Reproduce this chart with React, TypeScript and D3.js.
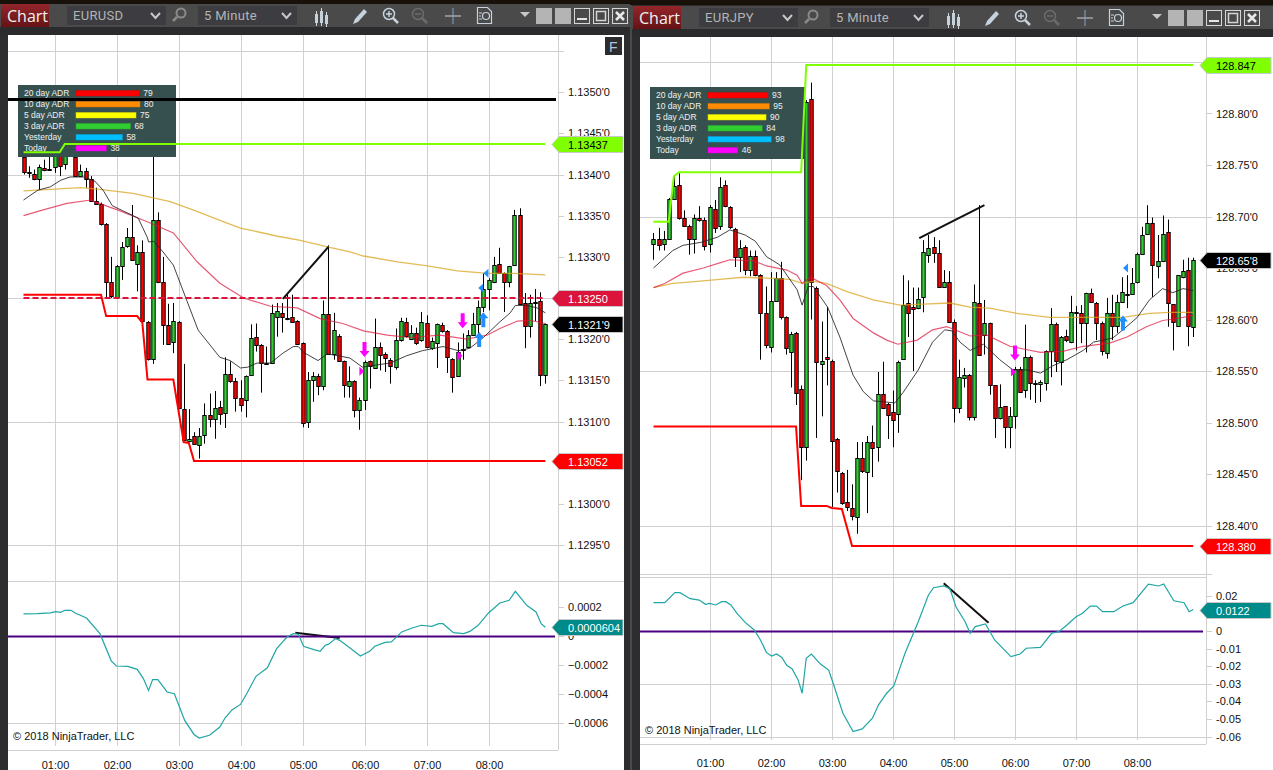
import React, { useEffect, useRef } from 'react';
import * as d3 from 'd3';

// bars are [open, high, low, close], one every 5 minutes
const eurusdBars = [
  [1.13421,1.13430,1.13400,1.13403],[1.13403,1.13410,1.13396,1.13402],[1.13401,1.13406,1.13393,1.13394],[1.13394,1.13412,1.13381,1.13409],
  [1.13408,1.13418,1.13404,1.13406],[1.13407,1.13426,1.13405,1.13406],[1.13409,1.13438,1.13402,1.13426],[1.13426,1.13432,1.13398,1.13410],
  [1.13413,1.13442,1.13406,1.13436],[1.13436,1.13442,1.13422,1.13425],[1.13421,1.13430,1.13397,1.13398],[1.13398,1.13412,1.13397,1.13404],
  [1.13404,1.13408,1.13384,1.13394],[1.13394,1.13398,1.13367,1.13368],[1.13368,1.13384,1.13363,1.13364],[1.13364,1.13366,1.13338,1.13340],
  [1.13340,1.13341,1.13250,1.13270],[1.13270,1.13300,1.13250,1.13253],[1.13251,1.13290,1.13250,1.13289],[1.13289,1.13318,1.13272,1.13312],
  [1.13313,1.13335,1.13311,1.13324],[1.13324,1.13363,1.13295,1.13296],[1.13291,1.13314,1.13258,1.13306],[1.13306,1.13320,1.13221,1.13222],
  [1.13221,1.13222,1.13174,1.13176],[1.13176,1.13424,1.13170,1.13345],[1.13345,1.13354,1.13268,1.13269],[1.13269,1.13300,1.13193,1.13217],
  [1.13217,1.13243,1.13193,1.13194],[1.13196,1.13244,1.13183,1.13222],[1.13221,1.13222,1.13116,1.13117],[1.13115,1.13170,1.13077,1.13078],
  [1.13076,1.13115,1.13075,1.13079],[1.13082,1.13087,1.13072,1.13073],[1.13071,1.13092,1.13055,1.13082],[1.13084,1.13122,1.13073,1.13108],
  [1.13108,1.13134,1.13093,1.13103],[1.13103,1.13137,1.13079,1.13116],[1.13118,1.13125,1.13096,1.13109],[1.13110,1.13178,1.13092,1.13158],
  [1.13158,1.13173,1.13147,1.13149],[1.13149,1.13153,1.13112,1.13129],[1.13129,1.13150,1.13112,1.13120],[1.13126,1.13156,1.13105,1.13155],
  [1.13157,1.13218,1.13156,1.13202],[1.13203,1.13219,1.13185,1.13193],[1.13193,1.13194,1.13135,1.13171],[1.13171,1.13191,1.13169,1.13170],
  [1.13171,1.13242,1.13170,1.13232],[1.13227,1.13244,1.13203,1.13234],[1.13232,1.13244,1.13208,1.13227],[1.13226,1.13254,1.13223,1.13224],
  [1.13227,1.13254,1.13220,1.13221],[1.13222,1.13223,1.13193,1.13194],[1.13195,1.13196,1.13093,1.13098],[1.13100,1.13160,1.13092,1.13150],
  [1.13150,1.13160,1.13124,1.13155],[1.13155,1.13158,1.13132,1.13143],[1.13143,1.13247,1.13138,1.13230],[1.13230,1.13314,1.13181,1.13182],
  [1.13182,1.13232,1.13175,1.13211],[1.13204,1.13206,1.13173,1.13174],[1.13173,1.13174,1.13129,1.13144],[1.13143,1.13167,1.13129,1.13149],
  [1.13149,1.13150,1.13105,1.13114],[1.13114,1.13129,1.13090,1.13126],[1.13126,1.13174,1.13114,1.13172],[1.13173,1.13174,1.13140,1.13167],
  [1.13165,1.13225,1.13164,1.13190],[1.13190,1.13196,1.13162,1.13181],[1.13182,1.13184,1.13160,1.13177],[1.13175,1.13177,1.13146,1.13167],
  [1.13166,1.13213,1.13163,1.13199],[1.13199,1.13226,1.13197,1.13222],[1.13221,1.13226,1.13202,1.13204],[1.13200,1.13217,1.13199,1.13207],
  [1.13207,1.13214,1.13193,1.13195],[1.13199,1.13233,1.13197,1.13221],[1.13220,1.13229,1.13189,1.13191],[1.13189,1.13202,1.13187,1.13198],
  [1.13195,1.13219,1.13165,1.13218],[1.13217,1.13220,1.13208,1.13210],[1.13210,1.13211,1.13159,1.13178],[1.13176,1.13177,1.13135,1.13154],
  [1.13155,1.13196,1.13154,1.13184],[1.13188,1.13207,1.13175,1.13187],[1.13190,1.13211,1.13189,1.13205],[1.13205,1.13232,1.13204,1.13219],
  [1.13219,1.13247,1.13199,1.13239],[1.13239,1.13280,1.13233,1.13261],[1.13261,1.13274,1.13235,1.13272],[1.13269,1.13300,1.13268,1.13290],
  [1.13291,1.13311,1.13279,1.13280],[1.13280,1.13281,1.13233,1.13269],[1.13269,1.13289,1.13263,1.13289],[1.13290,1.13357,1.13289,1.13351],
  [1.13351,1.13359,1.13242,1.13243],[1.13244,1.13256,1.13189,1.13216],[1.13216,1.13254,1.13202,1.13244],[1.13245,1.13261,1.13222,1.13244],
  [1.13246,1.13257,1.13143,1.13156],[1.13157,1.13219,1.13146,1.13219],
];

const eurjpyBars = [
  [128.673,128.684,128.658,128.678],[128.678,128.689,128.667,128.672],[128.673,128.686,128.667,128.678],[128.678,128.718,128.678,128.717],
  [128.717,128.740,128.716,128.730],[128.731,128.742,128.697,128.699],[128.699,128.706,128.690,128.691],[128.691,128.692,128.663,128.678],
  [128.678,128.702,128.664,128.699],[128.699,128.710,128.695,128.697],[128.697,128.699,128.667,128.671],[128.673,128.711,128.665,128.709],
  [128.707,128.716,128.684,128.689],[128.691,128.738,128.687,128.729],[128.731,128.735,128.709,128.710],[128.709,128.710,128.688,128.690],
  [128.688,128.689,128.651,128.661],[128.661,128.677,128.646,128.669],[128.670,128.672,128.643,128.648],[128.648,128.667,128.642,128.662],
  [128.662,128.667,128.642,128.643],[128.643,128.644,128.561,128.606],[128.606,128.632,128.572,128.575],[128.573,128.646,128.568,128.618],
  [128.618,128.646,128.617,128.640],[128.640,128.656,128.600,128.602],[128.602,128.603,128.566,128.572],[128.568,128.588,128.534,128.586],
  [128.587,128.588,128.517,128.529],[128.533,128.536,128.444,128.476],[128.476,128.813,128.463,128.811],[128.814,128.830,128.600,128.636],
  [128.631,128.632,128.485,128.559],[128.557,128.598,128.506,128.560],[128.564,128.612,128.536,128.562],[128.560,128.561,128.418,128.482],
  [128.484,128.485,128.432,128.453],[128.451,128.452,128.420,128.422],[128.423,128.454,128.414,128.418],[128.417,128.440,128.405,128.409],
  [128.408,128.481,128.392,128.466],[128.466,128.481,128.451,128.453],[128.452,128.487,128.412,128.481],[128.481,128.497,128.447,128.475],
  [128.476,128.549,128.462,128.528],[128.528,128.559,128.513,128.514],[128.518,128.519,128.484,128.507],[128.510,128.531,128.476,128.502],
  [128.508,128.560,128.490,128.559],[128.562,128.643,128.561,128.614],[128.616,128.638,128.583,128.606],[128.612,128.631,128.550,128.610],
  [128.611,128.631,128.610,128.620],[128.622,128.677,128.607,128.666],[128.663,128.682,128.655,128.669],[128.670,128.680,128.655,128.665],
  [128.665,128.677,128.631,128.632],[128.632,128.648,128.631,128.636],[128.636,128.647,128.597,128.598],[128.598,128.600,128.500,128.514],
  [128.514,128.561,128.509,128.544],[128.543,128.553,128.534,128.546],[128.546,128.547,128.502,128.505],[128.505,128.634,128.502,128.617],
  [128.616,128.711,128.566,128.566],[128.585,128.619,128.566,128.597],[128.597,128.597,128.527,128.536],[128.536,128.536,128.485,128.504],
  [128.504,128.537,128.503,128.515],[128.516,128.516,128.475,128.496],[128.496,128.515,128.475,128.506],[128.506,128.554,128.494,128.552],
  [128.552,128.554,128.529,128.530],[128.532,128.595,128.524,128.564],[128.564,128.565,128.522,128.538],[128.538,128.541,128.519,128.537],
  [128.537,128.541,128.520,128.539],[128.538,128.570,128.531,128.569],[128.569,128.611,128.544,128.596],[128.596,128.597,128.549,128.560],
  [128.559,128.584,128.536,128.583],[128.584,128.590,128.578,128.580],[128.578,128.623,128.577,128.607],[128.607,128.613,128.570,128.606],
  [128.606,128.614,128.577,128.597],[128.597,128.626,128.568,128.626],[128.626,128.630,128.616,128.617],[128.616,128.617,128.580,128.597],
  [128.597,128.598,128.565,128.569],[128.567,128.621,128.562,128.606],[128.606,128.624,128.580,128.594],[128.594,128.624,128.587,128.617],
  [128.617,128.641,128.616,128.627],[128.625,128.643,128.611,128.624],[128.625,128.650,128.624,128.635],[128.636,128.665,128.635,128.664],
  [128.664,128.690,128.663,128.682],[128.683,128.711,128.682,128.694],[128.694,128.699,128.622,128.653],[128.652,128.682,128.640,128.657],
  [128.657,128.701,128.656,128.683],[128.685,128.697,128.593,128.616],[128.615,128.615,128.570,128.598],[128.594,128.643,128.593,128.643],
  [128.641,128.658,128.640,128.647],[128.648,128.660,128.574,128.594],[128.593,128.660,128.583,128.658],
];

// line series are [minutes after midnight, value]
const usdFastMa = [[30,1.13369],[44,1.13381],[56,1.13385],[66,1.13393],[75,1.13397],[88,1.13397],[99,1.13392],[107,1.13381],[116,1.13362],[126,1.13356],[141,1.13347],[150,1.13323],[151,1.13318],[156,1.13319],[165,1.13306],[175,1.13290],[188,1.13247],[199,1.13211],[220,1.13178],[230,1.13174],[240,1.13165],[247,1.13166],[256,1.13171],[269,1.13171],[281,1.13183],[291,1.13191],[296,1.13191],[301,1.13184],[315,1.13174],[324,1.13182],[334,1.13180],[346,1.13177],[358,1.13166],[368,1.13168],[385,1.13171],[401,1.13180],[416,1.13186],[436,1.13191],[451,1.13186],[462,1.13189],[475,1.13202],[491,1.13221],[501,1.13232],[506,1.13241],[517,1.13241],[527,1.13238],[535,1.13232]];
const usdSlowMa = [[30,1.13380],[56,1.13382],[85,1.13384],[104,1.13382],[136,1.13377],[172,1.13367],[194,1.13357],[227,1.13341],[240,1.13335],[276,1.13325],[298,1.13320],[324,1.13312],[346,1.13306],[359,1.13301],[392,1.13294],[421,1.13289],[450,1.13283],[479,1.13280],[504,1.13280],[535,1.13278]];
const usdMidMa = [[30,1.13350],[49,1.13357],[72,1.13365],[95,1.13369],[114,1.13360],[121,1.13357],[151,1.13342],[175,1.13329],[198,1.13294],[220,1.13268],[243,1.13250],[269,1.13240],[295,1.13238],[317,1.13225],[339,1.13219],[359,1.13210],[382,1.13205],[404,1.13202],[433,1.13205],[459,1.13200],[479,1.13205],[491,1.13213],[508,1.13222],[520,1.13223],[535,1.13219]];
const usdHighLevel = [[30,1.13427],[65,1.13427],[70,1.13437],[535,1.13437]];
const usdLowLevel = [[30,1.13254],[105,1.13254],[110,1.13228],[140,1.13228],[145,1.13220],[150,1.13151],[175,1.13151],[185,1.13075],[190,1.13074],[195,1.13052],[535,1.13052]];
const usdOscillator = [[30,0.000152],[43,0.000154],[56,0.000159],[61,0.000168],[66,0.000163],[70,0.000177],[76,0.000177],[80,0.000159],[91,0.000124],[104,0.000016],[115,-0.000173],[120,-0.000207],[131,-0.000209],[140,-0.00023],[146,-0.000294],[151,-0.000375],[155,-0.000301],[160,-0.000301],[169,-0.000386],[176,-0.000398],[186,-0.000582],[195,-0.000679],[200,-0.000704],[210,-0.000685],[220,-0.000628],[225,-0.000566],[232,-0.000508],[240,-0.000472],[246,-0.000398],[255,-0.000278],[266,-0.000219],[275,-0.000087],[285,-0.000007],[291,0.000016],[296,0.000012],[301,-0.000071],[311,-0.000094],[317,-0.000106],[322,-0.000064],[325,-0.000058],[332,-0.000018],[336,-0.00003],[346,-0.000083],[356,-0.000138],[365,-0.000106],[370,-0.000071],[380,-0.000044],[386,-0.000041],[396,0.000028],[406,0.000055],[415,0.000074],[425,0.000067],[432,0.000085],[436,0.000085],[446,0.000023],[456,0.000016],[462,0.000032],[470,0.000074],[480,0.000159],[491,0.000228],[500,0.000246],[506,0.000308],[517,0.000212],[526,0.000166],[531,0.000085],[535,0.0000604]];

const jpyFastMa = [[5,128.650],[24,128.667],[34,128.672],[52,128.675],[68,128.680],[80,128.687],[95,128.682],[105,128.676],[116,128.661],[129,128.653],[136,128.643],[146,128.629],[151,128.614],[157,128.632],[162,128.632],[176,128.612],[188,128.583],[201,128.546],[211,128.530],[221,128.521],[232,128.520],[242,128.519],[250,128.529],[265,128.551],[279,128.578],[291,128.590],[298,128.589],[306,128.578],[316,128.570],[329,128.576],[345,128.561],[358,128.551],[372,128.551],[385,128.548],[397,128.555],[411,128.561],[427,128.570],[437,128.578],[456,128.582],[466,128.590],[480,128.602],[492,128.619],[505,128.630],[515,128.626],[525,128.630],[535,128.628]];
const jpySlowMa = [[5,128.631],[24,128.635],[48,128.637],[70,128.639],[93,128.641],[122,128.640],[139,128.639],[151,128.635],[162,128.637],[175,128.635],[195,128.627],[221,128.619],[247,128.614],[270,128.615],[296,128.616],[316,128.612],[335,128.611],[362,128.606],[394,128.602],[437,128.602],[466,128.602],[492,128.606],[512,128.607],[535,128.607]];
const jpyMidMa = [[5,128.631],[16,128.635],[34,128.645],[54,128.650],[70,128.655],[80,128.658],[103,128.657],[116,128.652],[136,128.648],[146,128.643],[151,128.635],[159,128.641],[175,128.633],[188,128.619],[201,128.601],[221,128.587],[234,128.580],[245,128.576],[264,128.580],[279,128.590],[293,128.593],[296,128.592],[316,128.584],[332,128.585],[355,128.574],[385,128.568],[407,128.569],[427,128.574],[453,128.577],[470,128.583],[489,128.593],[505,128.599],[519,128.601],[535,128.604]];
const jpyHighLevel = [[5,128.695],[20,128.695],[25,128.739],[30,128.743],[150,128.743],[155,128.847],[535,128.847]];
const jpyLowLevel = [[5,128.496],[145,128.496],[150,128.419],[175,128.419],[180,128.417],[190,128.416],[200,128.380],[535,128.380]];
const jpyOscillator = [[5,0.0161],[16,0.0161],[26,0.0218],[31,0.0218],[41,0.0184],[50,0.0176],[56,0.0152],[60,0.0157],[66,0.0148],[72,0.0167],[76,0.0167],[81,0.0148],[87,0.01],[95,0.0049],[104,0.0006],[110,-0.0051],[116,-0.0123],[121,-0.0142],[126,-0.0131],[131,-0.015],[136,-0.0197],[141,-0.0214],[147,-0.0278],[151,-0.0354],[155,-0.0155],[160,-0.0131],[169,-0.0188],[177,-0.0222],[182,-0.0307],[191,-0.0468],[201,-0.0572],[210,-0.0557],[220,-0.0496],[226,-0.042],[234,-0.0354],[241,-0.0313],[245,-0.0244],[252,-0.0127],[265,0.0053],[275,0.0205],[280,0.0246],[290,0.0256],[296,0.0242],[302,0.0138],[311,0.0053],[316,-0.0013],[321,0.0025],[331,0.004],[340,-0.0051],[356,-0.0146],[365,-0.0131],[371,-0.0098],[385,-0.0093],[396,-0.0013],[403,-0.0004],[411,0.0034],[420,0.0081],[426,0.01],[434,0.0142],[440,0.0142],[446,0.011],[457,0.011],[466,0.0142],[476,0.0161],[491,0.0267],[501,0.0256],[506,0.0267],[516,0.0172],[526,0.0161],[531,0.011],[535,0.0122]];

const hourTicks = [60, 120, 180, 240, 300, 360, 420, 480];
const adrLabels = ['20 day ADR', '10 day ADR', '5 day ADR', '3 day ADR', 'Yesterday', 'Today'];
const adrColors = ['#ff0000', '#ff8c00', '#ffff00', '#32cd32', '#00bfff', '#ff00ff'];
const usdAdr = [79, 80, 75, 68, 58, 38];
const jpyAdr = [93, 95, 90, 84, 98, 46];

const usdPriceTicks = [1.135, 1.1345, 1.134, 1.1335, 1.133, 1.1325, 1.132, 1.1315, 1.131, 1.1305, 1.13, 1.1295];
const usdPriceGrid = [1.1355, 1.134, 1.1325, 1.131, 1.1295];
const usdOscTicks = [0.0002, 0, -0.0002, -0.0004, -0.0006];
const jpyPriceTicks = [128.8, 128.75, 128.7, 128.65, 128.6, 128.55, 128.5, 128.45, 128.4];
const jpyPriceGrid = [128.85, 128.7, 128.55, 128.4];
const jpyOscTicks = [0.02, 0, -0.01, -0.02, -0.03, -0.04, -0.05, -0.06];
const jpyOscGrid = [-0.03, -0.06];
const usdOscGrid = [-0.0006];

const usdDownArrows = [[360, 1.13188], [455, 1.13223]];
const usdRightMarks = [[357, 1.13161], [452, 1.1318]];
const usdUpArrows = [[471, 1.13199], [475, 1.13223]];
const usdLeftMarks = [[473, 1.13262], [478, 1.1328]];
const jpyDownArrows = [[360, 128.568]];
const jpyRightMarks = [[358, 128.549]];
const jpyUpArrows = [[466, 128.596]];
const jpyLeftMarks = [[469, 128.65]];

const usdTrend = [[281, 1.13249], [325, 1.13312]];
const usdOscTrend = [[293, 0.000023], [336, -0.000014]];
const jpyTrend = [[266, 128.679], [330, 128.711]];
const jpyOscTrend = [[290, 0.0271], [334, 0.0047]];

const FONT = '"Liberation Sans", Arial, sans-serif';
const GRID = '#d0d0d0';

function toolbar(g: any, c: { x: number; y: number; w: number; symbol: string; id: string }) {
  const { x, y, w, symbol, id } = c;
  g.append('rect').attr('x', x).attr('y', y).attr('width', w).attr('height', 23).attr('fill', '#4a4a4b');
  g.append('rect').attr('x', x).attr('y', y + 23).attr('width', w).attr('height', 8).attr('fill', '#2b2b2d');
  const grad = g.append('linearGradient').attr('id', id).attr('x1', 0).attr('x2', 0).attr('y1', 0).attr('y2', 1);
  grad.append('stop').attr('offset', 0).attr('stop-color', '#93262b');
  grad.append('stop').attr('offset', 1).attr('stop-color', '#651316');
  g.append('rect').attr('x', x + 1).attr('y', y).attr('width', 48).attr('height', 23).attr('fill', `url(#${id})`);
  g.append('text').attr('x', x + 7).attr('y', y + 18).attr('fill', '#f2f2f2').attr('font-size', 16)
    .attr('font-family', '"Open Sans", sans-serif').text('Chart');
  const drop = (bx: number, label: string) => {
    g.append('rect').attr('x', bx).attr('y', y + 2).attr('width', 99).attr('height', 19).attr('fill', '#3c3c41');
    g.append('text').attr('x', bx + 6).attr('y', y + 16).attr('fill', '#b4b4b4').attr('font-size', 13)
      .attr('font-family', 'Roboto, sans-serif').attr('letter-spacing', 0.3).text(label);
    g.append('path').attr('d', `M${bx + 84},${y + 9}l4.5,5l4.5,-5`).attr('fill', 'none').attr('stroke', '#c8c8c8').attr('stroke-width', 2);
  };
  drop(x + 67, symbol);
  drop(x + 198, '5 Minute');
  const icon = '#c6d3de';
  // magnifier
  g.append('circle').attr('cx', x + 181).attr('cy', y + 9).attr('r', 4.5).attr('fill', 'none').attr('stroke', '#8a8a8a').attr('stroke-width', 2);
  g.append('line').attr('x1', x + 177).attr('y1', y + 13).attr('x2', x + 173).attr('y2', y + 17).attr('stroke', '#8a8a8a').attr('stroke-width', 2.5);
  // candle icon
  [[316, 7, 15], [321, 4, 18], [326, 8, 15]].forEach(([dx, a, b]) => {
    g.append('line').attr('x1', x + dx + 0.5).attr('y1', y + a).attr('x2', x + dx + 0.5).attr('y2', y + a + b).attr('stroke', '#d8d8d8').attr('stroke-width', 1);
    g.append('rect').attr('x', x + dx - 1).attr('y', y + a + 3).attr('width', 3).attr('height', b - 6).attr('fill', '#c8d2da');
  });
  // pencil
  g.append('path').attr('d', `M${x + 353},${y + 20}l2,-5l9,-10l3,3l-9,10z`).attr('fill', icon);
  // zoom in / out
  g.append('circle').attr('cx', x + 389).attr('cy', y + 10).attr('r', 5.5).attr('fill', 'none').attr('stroke', icon).attr('stroke-width', 1.5);
  g.append('path').attr('d', `M${x + 386},${y + 10}h6M${x + 389},${y + 7}v6`).attr('stroke', icon).attr('stroke-width', 1.5);
  g.append('line').attr('x1', x + 393).attr('y1', y + 14).attr('x2', x + 398).attr('y2', y + 19).attr('stroke', icon).attr('stroke-width', 2.5);
  g.append('circle').attr('cx', x + 418).attr('cy', y + 10).attr('r', 5.5).attr('fill', 'none').attr('stroke', '#6b6b6b').attr('stroke-width', 1.5);
  g.append('path').attr('d', `M${x + 415},${y + 10}h6`).attr('stroke', '#6b6b6b').attr('stroke-width', 1.5);
  g.append('line').attr('x1', x + 422).attr('y1', y + 14).attr('x2', x + 427).attr('y2', y + 19).attr('stroke', '#6b6b6b').attr('stroke-width', 2.5);
  // crosshair
  g.append('path').attr('d', `M${x + 445},${y + 12}h16`).attr('stroke', '#d0d0d0').attr('stroke-width', 1);
  g.append('path').attr('d', `M${x + 453},${y + 4}v16`).attr('stroke', '#7fa6c8').attr('stroke-width', 1);
  // data box
  g.append('path').attr('d', `M${x + 477.5},${y + 3.5}h10l4,4v12h-14z`).attr('fill', 'none').attr('stroke', icon).attr('stroke-width', 1.2);
  g.append('circle').attr('cx', x + 486).attr('cy', y + 12).attr('r', 3.5).attr('fill', 'none').attr('stroke', icon).attr('stroke-width', 1.2);
  g.append('path').attr('d', `M${x + 479},${y + 9}h3M${x + 479},${y + 12}h2M${x + 479},${y + 15}h3`).attr('stroke', icon);
  // window buttons
  g.append('path').attr('d', `M${x + 520},${y + 8}h10l-5,5z`).attr('fill', '#c8c8c8');
  [536, 555].forEach(bx => {
    g.append('rect').attr('x', x + bx).attr('y', y + 4).attr('width', 16).attr('height', 16).attr('fill', '#b4b4b4');
  });
  [574, 593, 612].forEach(bx => {
    g.append('rect').attr('x', x + bx + 0.5).attr('y', y + 4.5).attr('width', 15).attr('height', 15).attr('fill', 'none').attr('stroke', '#d6d6d6');
  });
  g.append('rect').attr('x', x + 577).attr('y', y + 14).attr('width', 10).attr('height', 2).attr('fill', '#e4e4e4');
  g.append('rect').attr('x', x + 596.5).attr('y', y + 7.5).attr('width', 9).attr('height', 9).attr('fill', 'none').attr('stroke', '#d6d6d6').attr('stroke-width', 1.5);
  g.append('path').attr('d', `M${x + 616},${y + 8}l8,8M${x + 624},${y + 8}l-8,8`).attr('stroke', '#e8e8e8').attr('stroke-width', 2.5);
}

function drawChart(g: any, c: any) {
  const { left, right, axisX, labelX, top, bottom, sep, xAt60, perHour, tagEnd } = c;
  g.append('rect').attr('x', left).attr('y', top).attr('width', right - left).attr('height', 770 - top).attr('fill', '#fff');

  const x = d3.scaleLinear().domain([60, 120]).range([xAt60, xAt60 + perHour]);
  const y = d3.scaleLinear().domain(c.priceDomain).range(c.priceRange);
  const yo = d3.scaleLinear().domain(c.oscDomain).range(c.oscRange);

  const hline = (py: number, x1: number, x2: number, col = GRID) =>
    g.append('line').attr('x1', x1).attr('x2', x2).attr('y1', Math.round(py) + 0.5).attr('y2', Math.round(py) + 0.5)
      .attr('stroke', col).attr('stroke-width', 1);

  // grid
  hourTicks.forEach(t => {
    const px = Math.round(x(t)) + 0.5;
    g.append('line').attr('x1', px).attr('x2', px).attr('y1', top).attr('y2', bottom - 4).attr('stroke', GRID);
    g.append('text').attr('x', px).attr('y', c.timeY).attr('text-anchor', 'middle').attr('font-size', 11)
      .attr('font-family', FONT).attr('fill', '#111').text(d3.format('02d')(t / 60) + ':00');
  });
  g.append('line').attr('x1', axisX + 0.5).attr('x2', axisX + 0.5).attr('y1', top).attr('y2', bottom).attr('stroke', GRID);
  c.priceGrid.forEach((p: number) => hline(y(p), left, axisX + 6));
  c.oscGrid.forEach((p: number) => hline(yo(p), left, axisX));
  sep.forEach((s: number[]) => hline(s[0], left, s[1]));
  hline(bottom, left, axisX);

  // axis labels
  c.priceTicks.forEach((p: number) => {
    hline(y(p), axisX, axisX + 6);
    g.append('text').attr('x', labelX).attr('y', y(p) + 4).attr('font-size', 11).attr('font-family', FONT).attr('fill', '#111')
      .text(c.priceFormat(p) + "'0");
  });
  c.oscTicks.forEach((p: number) => {
    hline(yo(p), axisX, axisX + 6);
    g.append('text').attr('x', labelX).attr('y', yo(p) + 4).attr('font-size', 11).attr('font-family', FONT).attr('fill', '#111')
      .text(p === 0 ? '0' : c.oscFormat(p));
  });

  g.append('text').attr('x', left + 5).attr('y', bottom - 10).attr('font-size', 11).attr('font-family', FONT).attr('fill', '#111')
    .text('© 2018 NinjaTrader, LLC');

  const candles = g.append('g');
  c.bars.forEach((b: number[], i: number) => {
    const [o, h, l, cl] = b;
    const px = Math.round(x(c.firstBar + i * 5));
    const up = cl >= o;
    candles.append('line').attr('x1', px + 0.5).attr('x2', px + 0.5).attr('y1', y(h)).attr('y2', y(l))
      .attr('stroke', '#000').attr('stroke-width', 1);
    const yTop = Math.round(y(Math.max(o, cl)));
    const yBot = Math.round(y(Math.min(o, cl)));
    candles.append('rect').attr('x', px - 1.2).attr('y', yTop + 0.5).attr('width', 3.4).attr('height', Math.max(yBot - yTop, 1))
      .attr('fill', up ? '#32cd32' : '#ff0000').attr('stroke', '#000').attr('stroke-width', 1);
  });

  const pricePath = d3.line<number[]>().x(d => x(d[0])).y(d => y(d[1]));
  const oscPath = d3.line<number[]>().x(d => x(d[0])).y(d => yo(d[1]));
  const series = (data: number[][], col: string, w: number, op = 1) =>
    g.append('path').attr('d', pricePath(data)).attr('fill', 'none').attr('stroke', col).attr('stroke-width', w).attr('stroke-opacity', op);

  series(c.slowMa, '#daa520', 1.3, 0.75);
  series(c.midMa, '#dc143c', 1.2, 0.7);
  series(c.fastMa, '#222', 1, 0.85);

  // markers
  const arrow = (m: number[], col: string, down: boolean) => {
    const px = x(m[0]);
    const py = y(m[1]);
    const s = down ? 1 : -1;
    g.append('path').attr('fill', col)
      .attr('d', `M${px - 2},${py - 7 * s}h4v${9 * s}h3l-5,${6 * s}l-5,${-6 * s}h3z`);
  };
  const tri = (m: number[], col: string, dir: number) => {
    const px = x(m[0]);
    const py = y(m[1]);
    g.append('path').attr('fill', col).attr('d', `M${px - 2 * dir},${py - 4.5}l${5 * dir},4.5l${-5 * dir},4.5z`);
  };
  c.downArrows.forEach((m: number[]) => arrow(m, '#ff00ff', true));
  c.rightMarks.forEach((m: number[]) => tri(m, '#ff00ff', 1));
  c.upArrows.forEach((m: number[]) => arrow(m, '#1e90ff', false));
  c.leftMarks.forEach((m: number[]) => tri(m, '#1e90ff', -1));

  // ADR box
  const adr = g.append('g');
  adr.append('rect').attr('x', c.adrBox[0]).attr('y', c.adrBox[1]).attr('width', c.adrBox[2]).attr('height', c.adrBox[3]).attr('fill', '#35504f');
  const adrX = d3.scaleLinear().domain([0, 100]).range([0, c.adrScale * 100]);
  c.adr.forEach((v: number, i: number) => {
    const ry = c.adrBox[1] + 8 + i * 11;
    adr.append('text').attr('x', c.adrBox[0] + 6).attr('y', ry + 3).attr('font-size', 8.5).attr('font-family', FONT).attr('fill', '#f0f0f0').text(adrLabels[i]);
    adr.append('rect').attr('x', c.adrBox[0] + 58).attr('y', ry - 2.5).attr('width', adrX(v)).attr('height', 5.5)
      .attr('fill', adrColors[i]).attr('stroke', d3.color(adrColors[i])!.darker(0.5).toString()).attr('stroke-width', 0.5);
    adr.append('text').attr('x', c.adrBox[0] + 62 + adrX(v)).attr('y', ry + 3).attr('font-size', 8.5).attr('font-family', FONT).attr('fill', '#f0f0f0').text(v);
  });

  // horizontal levels
  if (c.blackLevel) hline(y(c.blackLevel), left, axisX - 2, '#000').attr('stroke-width', 3);
  if (c.dashLevel) {
    g.append('line').attr('x1', x(c.firstBar)).attr('x2', x(535)).attr('y1', y(c.dashLevel)).attr('y2', y(c.dashLevel))
      .attr('stroke', '#dc143c').attr('stroke-width', 2).attr('stroke-dasharray', '6,3');
  }
  series(c.highLevel, '#7fff00', 2);
  series(c.lowLevel, '#ff0000', 2);

  // trend lines
  series(c.trend, '#111', 2);
  g.append('path').attr('d', oscPath(c.oscTrend)).attr('fill', 'none').attr('stroke', '#111').attr('stroke-width', 2);

  // oscillator
  hline(yo(0), left, axisX - 3, '#4b0082').attr('stroke-width', 2);
  g.append('path').attr('d', oscPath(c.oscillator)).attr('fill', 'none').attr('stroke', '#20a5a5').attr('stroke-width', 1.2);

  // price tags
  const tag = (py: number, fill: string, col: string, label: string) => {
    const x0 = axisX - 6;
    const yc = Math.round(py) + 0.5;
    g.append('path').attr('d', `M${x0},${yc}l7,-8H${tagEnd}v16H${x0 + 7}z`)
      .attr('fill', fill).attr('stroke', '#c8c8c8').attr('stroke-width', 1);
    g.append('text').attr('x', labelX).attr('y', yc + 4).attr('font-size', 11).attr('font-family', FONT).attr('fill', col).text(label);
  };
  c.tags.forEach((t: any) => tag(t.scale === 'osc' ? yo(t.value) : y(t.value), t.fill, t.color, t.label));
}

const usdConfig = {
  left: 8, right: 624, axisX: 558, labelX: 568, top: 35, bottom: 750, timeY: 769, tagEnd: 623,
  sep: [[581, 624]], xAt60: 54.5, perHour: 62, firstBar: 30,
  priceDomain: [1.134, 1.1325], priceRange: [174.5, 298], oscDomain: [0, -0.0006], oscRange: [636, 723],
  priceTicks: usdPriceTicks, priceGrid: usdPriceGrid, oscTicks: usdOscTicks, oscGrid: usdOscGrid,
  priceFormat: d3.format('.4f'), oscFormat: d3.format('.4f'),
  bars: eurusdBars, fastMa: usdFastMa, slowMa: usdSlowMa, midMa: usdMidMa,
  highLevel: usdHighLevel, lowLevel: usdLowLevel, oscillator: usdOscillator,
  downArrows: usdDownArrows, rightMarks: usdRightMarks, upArrows: usdUpArrows, leftMarks: usdLeftMarks,
  trend: usdTrend, oscTrend: usdOscTrend,
  adrBox: [18, 85, 158, 72], adrScale: 0.8, adr: usdAdr,
  blackLevel: 1.13492, dashLevel: 1.1325,
  tags: [
    { value: 1.13437, fill: '#7fff00', color: '#000', label: '1.13437' },
    { value: 1.1325, fill: '#dc143c', color: '#fff', label: '1.13250' },
    { value: 1.13219, fill: '#000', color: '#fff', label: "1.1321'9" },
    { value: 1.13052, fill: '#ff0000', color: '#fff', label: '1.13052' },
    { value: 0.0000604, scale: 'osc', fill: '#008b8b', color: '#fff', label: '0.0000604' },
  ],
};

const jpyConfig = {
  left: 640, right: 1273, axisX: 1206, labelX: 1216, top: 37, bottom: 744, timeY: 767, tagEnd: 1271,
  sep: [[574, 1212], [577, 1206]], xAt60: 709.5, perHour: 61.1, firstBar: 5,
  priceDomain: [128.7, 128.4], priceRange: [216.5, 525.5], oscDomain: [0, -0.06], oscRange: [631, 736.5],
  priceTicks: jpyPriceTicks, priceGrid: jpyPriceGrid, oscTicks: jpyOscTicks, oscGrid: jpyOscGrid,
  priceFormat: d3.format('.2f'), oscFormat: (v: number) => String(v),
  bars: eurjpyBars, fastMa: jpyFastMa, slowMa: jpySlowMa, midMa: jpyMidMa,
  highLevel: jpyHighLevel, lowLevel: jpyLowLevel, oscillator: jpyOscillator,
  downArrows: jpyDownArrows, rightMarks: jpyRightMarks, upArrows: jpyUpArrows, leftMarks: jpyLeftMarks,
  trend: jpyTrend, oscTrend: jpyOscTrend,
  adrBox: [650, 87, 155, 72], adrScale: 0.645, adr: jpyAdr,
  tags: [
    { value: 128.847, fill: '#7fff00', color: '#000', label: '128.847' },
    { value: 128.658, fill: '#000', color: '#fff', label: "128.65'8" },
    { value: 128.38, fill: '#ff0000', color: '#fff', label: '128.380' },
    { value: 0.0122, scale: 'osc', fill: '#008b8b', color: '#fff', label: '0.0122' },
  ],
};

export default function App() {
  const svgRef = useRef<SVGSVGElement>(null);

  useEffect(() => {
    if (!svgRef.current) return;
    document.body.style.margin = '0';
    const svg = d3.select(svgRef.current);
    svg.selectAll('*').remove();

    svg.append('rect').attr('width', 1273).attr('height', 770).attr('fill', '#2d2d30');
    svg.append('rect').attr('width', 1273).attr('height', 5).attr('fill', '#17110a');
    svg.append('rect').attr('x', 630).attr('y', 5).attr('width', 2).attr('height', 765).attr('fill', '#4a4a4b');

    toolbar(svg.append('g'), { x: 0, y: 4, w: 630, symbol: 'EURUSD', id: 'chartBtnA' });
    toolbar(svg.append('g'), { x: 632, y: 6, w: 641, symbol: 'EURJPY', id: 'chartBtnB' });

    drawChart(svg.append('g'), usdConfig);
    drawChart(svg.append('g'), jpyConfig);

    // F button on the left chart
    svg.append('rect').attr('x', 605).attr('y', 37).attr('width', 17).attr('height', 18).attr('fill', '#2d2d30');
    svg.append('text').attr('x', 609).attr('y', 52).attr('font-size', 14).attr('font-family', FONT).attr('fill', '#b0c4de').text('F');
  }, []);

  return <svg ref={svgRef} width={1273} height={770} style={{ position: 'absolute', left: 0, top: 0, display: 'block' }} />;
}
